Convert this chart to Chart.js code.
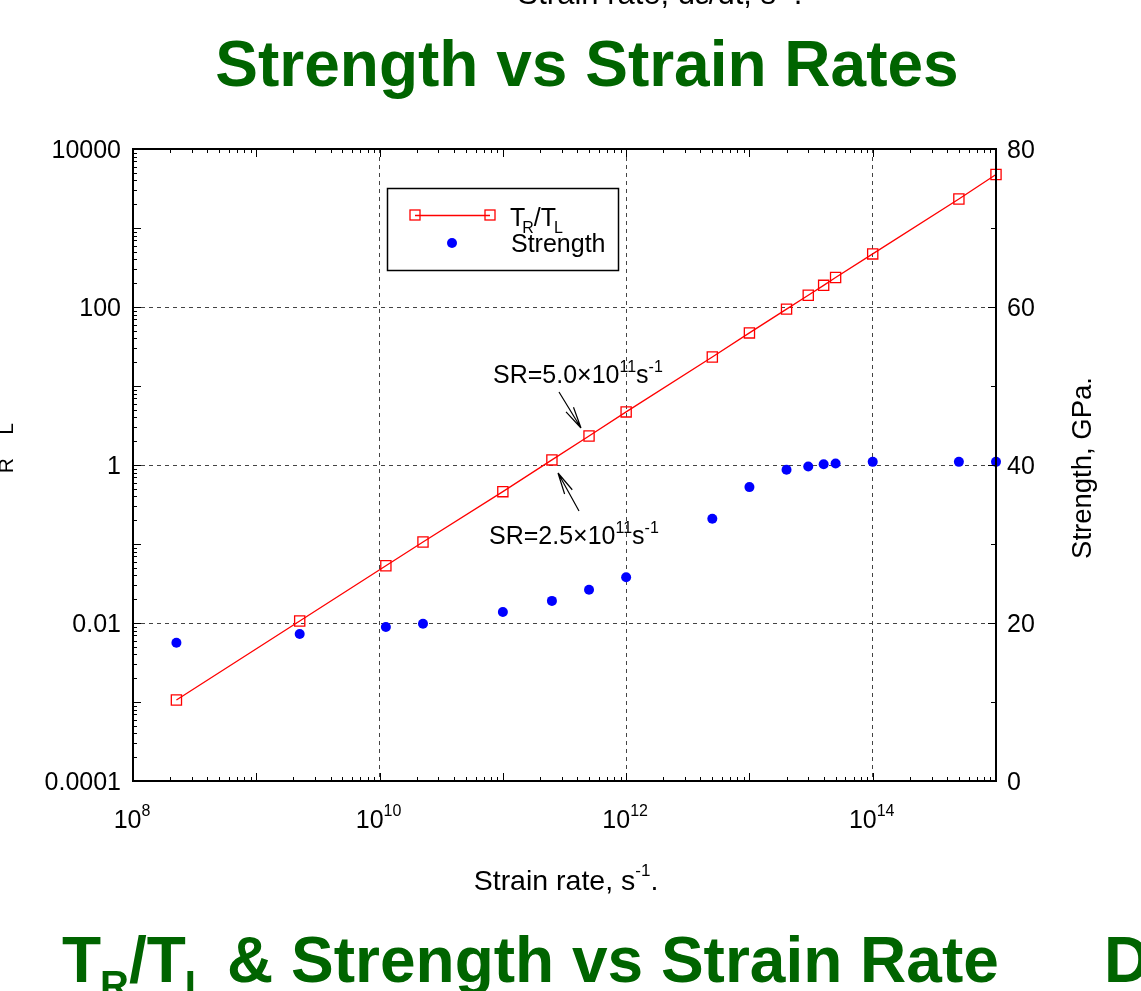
<!DOCTYPE html>
<html>
<head>
<meta charset="utf-8">
<script src="https://cdn.jsdelivr.net/npm/chart.js@4/dist/chart.umd.min.js"></script>
<style>
html,body{margin:0;padding:0;background:#fff;overflow:hidden;}
canvas{display:block;}
</style>
</head>
<body>
<canvas id="c" width="1141" height="991" style="width:1141px;height:991px"></canvas>
<script>
// ---- data ----
const strainRate = [2.25e8, 2.25e9, 1.125e10, 2.25e10, 1e11, 2.5e11, 5e11, 1e12, 5e12, 1e13, 2e13, 3e13, 4e13, 5e13, 1e14, 5e14, 1e15];
const trRatio    = [1.06e-3, 1.06e-2, 0.053, 0.106, 0.46, 1.16, 2.33, 4.7, 23.3, 47, 94, 141, 188, 236, 470, 2330, 4750];
const strength   = [17.5, 18.6, 19.5, 19.9, 21.4, 22.8, 24.2, 25.8, 33.2, 37.2, 39.4, 39.8, 40.1, 40.2, 40.4, 40.4, 40.4];

const xTickValues = [1e8, 1e10, 1e12, 1e14];
const xTickExps   = ['8', '10', '12', '14'];
const xGridValues = [1e10, 1e12, 1e14];
const yTickValues = [1e-4, 1e-2, 1, 1e2, 1e4];
const yTickLabels = ['0.0001', '0.01', '1', '100', '10000'];
const yGridValues = [1e-2, 1, 1e2];
const y2TickValues = [0, 20, 40, 60, 80];
const y2TickLabels = ['0', '20', '40', '60', '80'];
const y2MinorValues = [10, 30, 50, 70];

const FONT = "'Liberation Sans', Arial, Helvetica, sans-serif";
const GREEN = '#006400';

function fnt(p){ return (p.bold ? 'bold ' : '') + p.size + 'px ' + FONT; }
function richWidth(ctx, parts){
  let w = 0;
  for (const p of parts){ ctx.font = fnt(p); w += ctx.measureText(p.t).width + (p.kern || 0); }
  return w;
}
function drawRich(ctx, parts, x, y, align){
  const w = richWidth(ctx, parts);
  let cx = align === 'center' ? x - w / 2 : (align === 'right' ? x - w : x);
  ctx.textAlign = 'left';
  ctx.textBaseline = 'alphabetic';
  for (const p of parts){
    ctx.font = fnt(p);
    ctx.fillText(p.t, cx, y + (p.dy || 0));
    cx += ctx.measureText(p.t).width + (p.kern || 0);
  }
}
function arrow(ctx, x1, y1, x2, y2){
  const ang = Math.atan2(y2 - y1, x2 - x1);
  const len = 22, spread = 0.2;
  ctx.beginPath();
  ctx.moveTo(x1, y1); ctx.lineTo(x2, y2);
  ctx.moveTo(x2, y2); ctx.lineTo(x2 - len * Math.cos(ang - spread), y2 - len * Math.sin(ang - spread));
  ctx.moveTo(x2, y2); ctx.lineTo(x2 - len * Math.cos(ang + spread), y2 - len * Math.sin(ang + spread));
  ctx.stroke();
}

const decorations = {
  id: 'decorations',
  afterDraw(chart){
    const ctx = chart.ctx;
    const a = chart.chartArea;
    const xs = chart.scales.x, ys = chart.scales.y, y2 = chart.scales.y2;
    ctx.save();
    ctx.fillStyle = '#000';
    ctx.strokeStyle = '#000';

    // ticks
    ctx.lineWidth = 1;
    ctx.beginPath();
    for (let d = -4; d <= 4; d++){
      const py = Math.round(ys.getPixelForValue(Math.pow(10, d))) + 0.5;
      ctx.moveTo(a.left, py); ctx.lineTo(a.left + 8, py);
      if (d < 4){
        for (let m = 2; m <= 9; m++){
          const q = Math.round(ys.getPixelForValue(m * Math.pow(10, d))) + 0.5;
          ctx.moveTo(a.left, q); ctx.lineTo(a.left + 4, q);
        }
      }
    }
    for (const v of y2TickValues){
      const py = Math.round(y2.getPixelForValue(v)) + 0.5;
      ctx.moveTo(a.right, py); ctx.lineTo(a.right - 8, py);
    }
    for (const v of y2MinorValues){
      const py = Math.round(y2.getPixelForValue(v)) + 0.5;
      ctx.moveTo(a.right, py); ctx.lineTo(a.right - 5, py);
    }
    for (let d = 8; d <= 15; d++){
      const px = Math.round(xs.getPixelForValue(Math.pow(10, d))) + 0.5;
      ctx.moveTo(px, a.bottom); ctx.lineTo(px, a.bottom - 8);
      ctx.moveTo(px, a.top); ctx.lineTo(px, a.top + 8);
      if (d < 15){
        for (let m = 2; m <= 9; m++){
          const q = Math.round(xs.getPixelForValue(m * Math.pow(10, d))) + 0.5;
          ctx.moveTo(q, a.bottom); ctx.lineTo(q, a.bottom - 4);
          ctx.moveTo(q, a.top); ctx.lineTo(q, a.top + 4);
        }
      }
    }
    ctx.stroke();

    // frame
    ctx.lineWidth = 2;
    ctx.strokeRect(a.left, a.top, a.right - a.left, a.bottom - a.top);

    // tick labels
    ctx.font = '25px ' + FONT;
    ctx.textAlign = 'right'; ctx.textBaseline = 'alphabetic';
    yTickValues.forEach((v, i) => {
      ctx.fillText(yTickLabels[i], 121, ys.getPixelForValue(v) + 9);
    });
    ctx.textAlign = 'left';
    y2TickValues.forEach((v, i) => {
      ctx.fillText(y2TickLabels[i], 1007, y2.getPixelForValue(v) + 9);
    });
    xTickValues.forEach((v, i) => {
      drawRich(ctx, [{t:'10', size:25}, {t:xTickExps[i], size:16, dy:-12}], xs.getPixelForValue(v) - 1, 828, 'center');
    });

    // axis titles
    drawRich(ctx, [{t:'Strain rate, s', size:28.5}, {t:'-1', size:17, dy:-14}, {t:'.', size:28.5}], 566, 890, 'center');
    ctx.save();
    ctx.translate(1091, 468);
    ctx.rotate(-Math.PI / 2);
    ctx.font = '27.5px ' + FONT;
    ctx.textAlign = 'center';
    ctx.fillText('Strength, GPa.', 0, 0);
    ctx.restore();
    ctx.save();
    ctx.translate(-4, 456);
    ctx.rotate(-Math.PI / 2);
    drawRich(ctx, [{t:'T', size:27.5, kern:-1}, {t:'R', size:21, dy:17}, {t:'/T', size:27.5, kern:-1}, {t:'L', size:21, dy:17}], 0, 0, 'center');
    ctx.restore();

    // legend
    ctx.lineWidth = 1.5;
    ctx.strokeRect(387.5, 188.5, 231, 82);
    ctx.strokeStyle = '#ff0000';
    ctx.lineWidth = 1.3;
    ctx.beginPath(); ctx.moveTo(415, 215.5); ctx.lineTo(490, 215.5); ctx.stroke();
    ctx.strokeRect(410, 210, 10, 10);
    ctx.strokeRect(485, 210, 10, 10);
    ctx.fillStyle = '#0000ff';
    ctx.beginPath(); ctx.arc(452, 243, 5, 0, Math.PI * 2); ctx.fill();
    ctx.fillStyle = '#000';
    drawRich(ctx, [{t:'T', size:25, kern:-3}, {t:'R', size:16, dy:7}, {t:'/T', size:25, kern:-2}, {t:'L', size:16, dy:7}], 510, 226, 'left');
    drawRich(ctx, [{t:'Strength', size:25}], 511, 252, 'left');

    // annotations
    drawRich(ctx, [{t:'SR=5.0×10', size:25}, {t:'11', size:16, dy:-11}, {t:'s', size:25}, {t:'-1', size:16, dy:-11}], 493, 383, 'left');
    drawRich(ctx, [{t:'SR=2.5×10', size:25}, {t:'11', size:16, dy:-11}, {t:'s', size:25}, {t:'-1', size:16, dy:-11}], 489, 544, 'left');
    ctx.strokeStyle = '#000';
    ctx.lineWidth = 1.2;
    arrow(ctx, 559, 392, 581, 428);
    arrow(ctx, 579, 511, 558, 473);

    // page titles
    ctx.fillStyle = GREEN;
    drawRich(ctx, [{t:'Strength vs Strain Rates', size:64, bold:true}], 587, 86, 'center');
    drawRich(ctx, [{t:'T', size:64, bold:true, kern:-1}, {t:'R', size:40, bold:true, dy:17}, {t:'/T', size:64, bold:true, kern:-1}, {t:'L', size:40, bold:true, dy:17}, {t:' & Strength vs Strain Rate', size:64, bold:true}], 62, 982, 'left');
    drawRich(ctx, [{t:'D', size:64, bold:true}], 1104, 982, 'left');
    // text of the chart above, cut off at the top
    ctx.fillStyle = '#000';
    drawRich(ctx, [{t:'Strain rate, d\u03B5/dt, s', size:31}, {t:'-1', size:20, dy:-14}, {t:'.', size:31}], 660, 4, 'center');
    ctx.restore();
  }
};

const ctx = document.getElementById('c').getContext('2d');
new Chart(ctx, {
  type: 'line',
  data: {
    datasets: [
      {
        label: 'TR/TL',
        data: strainRate.map((x, i) => ({x: x, y: trRatio[i]})),
        xAxisID: 'x', yAxisID: 'y',
        borderColor: '#ff0000', borderWidth: 1.3,
        pointStyle: 'rect', pointRadius: 7.2,
        pointBorderColor: '#ff0000', pointBackgroundColor: 'rgba(0,0,0,0)', pointBorderWidth: 1.3,
        fill: false, tension: 0, clip: false
      },
      {
        label: 'Strength',
        data: strainRate.map((x, i) => ({x: x, y: strength[i]})),
        xAxisID: 'x', yAxisID: 'y2',
        showLine: false,
        pointStyle: 'circle', pointRadius: 5,
        pointBackgroundColor: '#0000ff', pointBorderColor: '#0000ff', pointBorderWidth: 0,
        clip: false
      }
    ]
  },
  options: {
    responsive: false,
    animation: false,
    devicePixelRatio: 1,
    layout: {padding: {top: 149, left: 0, right: 0, bottom: 0}},
    plugins: {legend: {display: false}, title: {display: false}, tooltip: {enabled: false}},
    events: [],
    scales: {
      x: {
        type: 'logarithmic', position: 'bottom', min: 1e8, max: 1e15,
        afterBuildTicks: s => { s.ticks = xGridValues.map(v => ({value: v})); },
        afterFit: s => { s.height = 210; },
        ticks: {display: false},
        grid: {color: '#444', lineWidth: 1, drawTicks: false},
        border: {display: false, dash: [4, 4]}
      },
      y: {
        type: 'logarithmic', position: 'left', min: 1e-4, max: 1e4,
        afterBuildTicks: s => { s.ticks = yGridValues.map(v => ({value: v})); },
        afterFit: s => { s.width = 133; },
        ticks: {display: false},
        grid: {color: '#444', lineWidth: 1, drawTicks: false},
        border: {display: false, dash: [4, 4]}
      },
      y2: {
        type: 'linear', position: 'right', min: 0, max: 80,
        afterFit: s => { s.width = 145; },
        ticks: {display: false},
        grid: {display: false, drawTicks: false},
        border: {display: false}
      }
    }
  },
  plugins: [decorations]
});
</script>
</body>
</html>
